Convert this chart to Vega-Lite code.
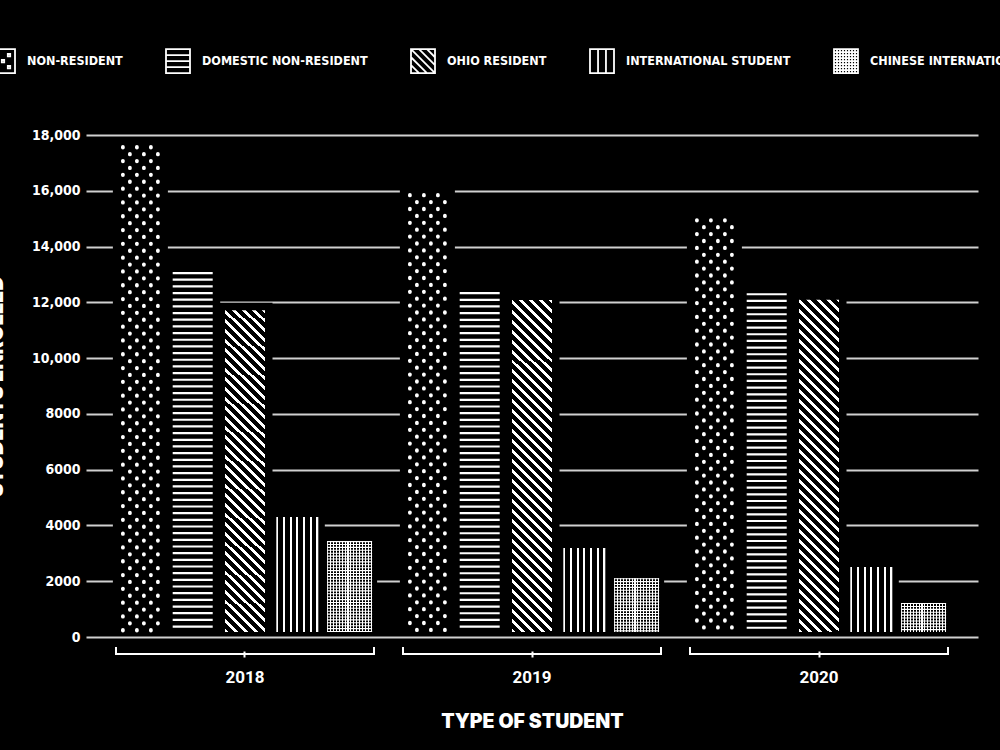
{
  "$schema": "https://vega.github.io/schema/vega-lite/v6.json",
  "width": 892,
  "height": 502,
  "autosize": {"type": "none"},
  "padding": {"left": 86, "top": 135, "right": 22, "bottom": 113},
  "background": "black",
  "config": {"view": {"stroke": null}},
  "data": {"values": [
    {"year": "2018", "type": "NON-RESIDENT", "value": 17570},
    {"year": "2018", "type": "DOMESTIC NON-RESIDENT", "value": 13090},
    {"year": "2018", "type": "OHIO RESIDENT", "value": 11720},
    {"year": "2018", "type": "INTERNATIONAL STUDENT", "value": 4300},
    {"year": "2018", "type": "CHINESE INTERNATIONAL STUDENT", "value": 3440},
    {"year": "2019", "type": "NON-RESIDENT", "value": 15850},
    {"year": "2019", "type": "DOMESTIC NON-RESIDENT", "value": 12370},
    {"year": "2019", "type": "OHIO RESIDENT", "value": 12080},
    {"year": "2019", "type": "INTERNATIONAL STUDENT", "value": 3190},
    {"year": "2019", "type": "CHINESE INTERNATIONAL STUDENT", "value": 2110},
    {"year": "2020", "type": "NON-RESIDENT", "value": 14950},
    {"year": "2020", "type": "DOMESTIC NON-RESIDENT", "value": 12330},
    {"year": "2020", "type": "OHIO RESIDENT", "value": 12090},
    {"year": "2020", "type": "INTERNATIONAL STUDENT", "value": 2510},
    {"year": "2020", "type": "CHINESE INTERNATIONAL STUDENT", "value": 1220}
  ]},
  "layer": [
    {
      "mark": {"type": "bar", "fill": "black", "stroke": "black", "strokeWidth": 15, "y2Offset": -12},
      "encoding": {
        "x": {"field": "year", "type": "nominal", "scale": {"paddingInner": 0, "paddingOuter": 0.054},
          "axis": {"title": "TYPE OF STUDENT", "orient": "bottom", "offset": 14, "domain": false, "ticks": true, "tickColor": "white", "tickWidth": 2, "tickSize": 6, "labelPadding": 12, "labelFont": "Roboto", "labelFontWeight": "bold", "labelFontSize": 17, "labelColor": "white", "labelAngle": 0, "titleFont": "Inter", "titleFontWeight": 900, "titleFontSize": 19.5, "titleColor": "white", "titlePadding": 27}},
        "xOffset": {"field": "type", "type": "nominal", "scale": {"domain": ["NON-RESIDENT", "DOMESTIC NON-RESIDENT", "OHIO RESIDENT", "INTERNATIONAL STUDENT", "CHINESE INTERNATIONAL STUDENT"], "paddingInner": 0.235, "paddingOuter": 0.361}},
        "y": {"field": "value", "type": "quantitative", "scale": {"domain": [0, 18000], "nice": false},
          "axis": {"title": "STUDENTS ENROLLED", "values": [0, 2000, 4000, 6000, 8000, 10000, 12000, 14000, 16000, 18000], "labelExpr": "datum.value >= 10000 ? format(datum.value, ',') : format(datum.value, 'd')", "domain": false, "ticks": false, "labelPadding": 6, "labelFont": "DejaVu Sans Condensed, sans-serif", "labelFontWeight": "bold", "labelFontSize": 14, "labelColor": "white", "grid": true, "gridColor": "#d0d0d0", "gridWidth": 2, "titleFont": "Inter", "titleFontWeight": 900, "titleFontSize": 20, "titleColor": "white", "titleX": -84, "titleBaseline": "alphabetic", "titleAngle": -90}},
        "y2": {"datum": 0}
      }
    },
    {
      "transform": [{"filter": "datum.type == 'NON-RESIDENT'"}],
      "mark": {"type": "rule", "stroke": "white", "strokeWidth": 3.8, "strokeCap": "round", "strokeDash": [0.5, 13.3], "strokeDashOffset": 0, "xOffset": -122.1, "y2Offset": -5},
      "encoding": {"x": {"field": "year", "type": "nominal"}, "y": {"field": "value", "type": "quantitative"}, "y2": {"datum": 0}}
    },
    {
      "transform": [{"filter": "datum.type == 'NON-RESIDENT'"}],
      "mark": {"type": "rule", "stroke": "white", "strokeWidth": 3.8, "strokeCap": "round", "strokeDash": [0.5, 13.3], "strokeDashOffset": 6.9, "xOffset": -115.1, "y2Offset": -5},
      "encoding": {"x": {"field": "year", "type": "nominal"}, "y": {"field": "value", "type": "quantitative"}, "y2": {"datum": 0}}
    },
    {
      "transform": [{"filter": "datum.type == 'NON-RESIDENT'"}],
      "mark": {"type": "rule", "stroke": "white", "strokeWidth": 3.8, "strokeCap": "round", "strokeDash": [0.5, 13.3], "strokeDashOffset": 0, "xOffset": -108.1, "y2Offset": -5},
      "encoding": {"x": {"field": "year", "type": "nominal"}, "y": {"field": "value", "type": "quantitative"}, "y2": {"datum": 0}}
    },
    {
      "transform": [{"filter": "datum.type == 'NON-RESIDENT'"}],
      "mark": {"type": "rule", "stroke": "white", "strokeWidth": 3.8, "strokeCap": "round", "strokeDash": [0.5, 13.3], "strokeDashOffset": 6.9, "xOffset": -101.1, "y2Offset": -5},
      "encoding": {"x": {"field": "year", "type": "nominal"}, "y": {"field": "value", "type": "quantitative"}, "y2": {"datum": 0}}
    },
    {
      "transform": [{"filter": "datum.type == 'NON-RESIDENT'"}],
      "mark": {"type": "rule", "stroke": "white", "strokeWidth": 3.8, "strokeCap": "round", "strokeDash": [0.5, 13.3], "strokeDashOffset": 0, "xOffset": -94.1, "y2Offset": -5},
      "encoding": {"x": {"field": "year", "type": "nominal"}, "y": {"field": "value", "type": "quantitative"}, "y2": {"datum": 0}}
    },
    {
      "transform": [{"filter": "datum.type == 'NON-RESIDENT'"}],
      "mark": {"type": "rule", "stroke": "white", "strokeWidth": 3.8, "strokeCap": "round", "strokeDash": [0.5, 13.3], "strokeDashOffset": 6.9, "xOffset": -87.1, "y2Offset": -5},
      "encoding": {"x": {"field": "year", "type": "nominal"}, "y": {"field": "value", "type": "quantitative"}, "y2": {"datum": 0}}
    },
    {
      "transform": [{"filter": "datum.type == 'DOMESTIC NON-RESIDENT'"}],
      "mark": {"type": "rule", "stroke": "white", "strokeWidth": 40, "strokeCap": "butt", "strokeDash": [2.2, 4.47], "y2Offset": -5},
      "encoding": {"x": {"field": "year", "type": "nominal"}, "xOffset": {"field": "type", "type": "nominal"}, "y": {"field": "value", "type": "quantitative"}, "y2": {"datum": 0}}
    },
    {
      "transform": [{"filter": "datum.type == 'OHIO RESIDENT'"}],
      "mark": {"type": "bar", "y2Offset": -5, "fill": {"gradient": "linear", "x1": 0, "y1": 1, "x2": 0.1326, "y2": -0.1042, "stops": [
        {"offset": 0, "color": "#fff"}, {"offset": 0.0107, "color": "#fff"}, {"offset": 0.0107, "color": "#000"}, {"offset": 0.0268, "color": "#000"},
        {"offset": 0.0268, "color": "#fff"}, {"offset": 0.0375, "color": "#fff"}, {"offset": 0.0375, "color": "#000"}, {"offset": 0.0536, "color": "#000"},
        {"offset": 0.0536, "color": "#fff"}, {"offset": 0.0643, "color": "#fff"}, {"offset": 0.0643, "color": "#000"}, {"offset": 0.0804, "color": "#000"},
        {"offset": 0.0804, "color": "#fff"}, {"offset": 0.0911, "color": "#fff"}, {"offset": 0.0911, "color": "#000"}, {"offset": 0.1072, "color": "#000"},
        {"offset": 0.1072, "color": "#fff"}, {"offset": 0.1179, "color": "#fff"}, {"offset": 0.1179, "color": "#000"}, {"offset": 0.134, "color": "#000"},
        {"offset": 0.134, "color": "#fff"}, {"offset": 0.1447, "color": "#fff"}, {"offset": 0.1447, "color": "#000"}, {"offset": 0.1608, "color": "#000"},
        {"offset": 0.1608, "color": "#fff"}, {"offset": 0.1715, "color": "#fff"}, {"offset": 0.1715, "color": "#000"}, {"offset": 0.1876, "color": "#000"},
        {"offset": 0.1876, "color": "#fff"}, {"offset": 0.1983, "color": "#fff"}, {"offset": 0.1983, "color": "#000"}, {"offset": 0.2144, "color": "#000"},
        {"offset": 0.2144, "color": "#fff"}, {"offset": 0.2251, "color": "#fff"}, {"offset": 0.2251, "color": "#000"}, {"offset": 0.2412, "color": "#000"},
        {"offset": 0.2412, "color": "#fff"}, {"offset": 0.2519, "color": "#fff"}, {"offset": 0.2519, "color": "#000"}, {"offset": 0.268, "color": "#000"},
        {"offset": 0.268, "color": "#fff"}, {"offset": 0.2787, "color": "#fff"}, {"offset": 0.2787, "color": "#000"}, {"offset": 0.2948, "color": "#000"},
        {"offset": 0.2948, "color": "#fff"}, {"offset": 0.3055, "color": "#fff"}, {"offset": 0.3055, "color": "#000"}, {"offset": 0.3216, "color": "#000"},
        {"offset": 0.3216, "color": "#fff"}, {"offset": 0.3323, "color": "#fff"}, {"offset": 0.3323, "color": "#000"}, {"offset": 0.3484, "color": "#000"},
        {"offset": 0.3484, "color": "#fff"}, {"offset": 0.3591, "color": "#fff"}, {"offset": 0.3591, "color": "#000"}, {"offset": 0.3752, "color": "#000"},
        {"offset": 0.3752, "color": "#fff"}, {"offset": 0.3859, "color": "#fff"}, {"offset": 0.3859, "color": "#000"}, {"offset": 0.402, "color": "#000"},
        {"offset": 0.402, "color": "#fff"}, {"offset": 0.4127, "color": "#fff"}, {"offset": 0.4127, "color": "#000"}, {"offset": 0.4288, "color": "#000"},
        {"offset": 0.4288, "color": "#fff"}, {"offset": 0.4395, "color": "#fff"}, {"offset": 0.4395, "color": "#000"}, {"offset": 0.4556, "color": "#000"},
        {"offset": 0.4556, "color": "#fff"}, {"offset": 0.4663, "color": "#fff"}, {"offset": 0.4663, "color": "#000"}, {"offset": 0.4824, "color": "#000"},
        {"offset": 0.4824, "color": "#fff"}, {"offset": 0.4931, "color": "#fff"}, {"offset": 0.4931, "color": "#000"}, {"offset": 0.5092, "color": "#000"},
        {"offset": 0.5092, "color": "#fff"}, {"offset": 0.5199, "color": "#fff"}, {"offset": 0.5199, "color": "#000"}, {"offset": 0.536, "color": "#000"},
        {"offset": 0.536, "color": "#fff"}, {"offset": 0.5467, "color": "#fff"}, {"offset": 0.5467, "color": "#000"}, {"offset": 0.5628, "color": "#000"},
        {"offset": 0.5628, "color": "#fff"}, {"offset": 0.5735, "color": "#fff"}, {"offset": 0.5735, "color": "#000"}, {"offset": 0.5896, "color": "#000"},
        {"offset": 0.5896, "color": "#fff"}, {"offset": 0.6003, "color": "#fff"}, {"offset": 0.6003, "color": "#000"}, {"offset": 0.6164, "color": "#000"},
        {"offset": 0.6164, "color": "#fff"}, {"offset": 0.6271, "color": "#fff"}, {"offset": 0.6271, "color": "#000"}, {"offset": 0.6432, "color": "#000"},
        {"offset": 0.6432, "color": "#fff"}, {"offset": 0.6539, "color": "#fff"}, {"offset": 0.6539, "color": "#000"}, {"offset": 0.67, "color": "#000"},
        {"offset": 0.67, "color": "#fff"}, {"offset": 0.6807, "color": "#fff"}, {"offset": 0.6807, "color": "#000"}, {"offset": 0.6968, "color": "#000"},
        {"offset": 0.6968, "color": "#fff"}, {"offset": 0.7075, "color": "#fff"}, {"offset": 0.7075, "color": "#000"}, {"offset": 0.7236, "color": "#000"},
        {"offset": 0.7236, "color": "#fff"}, {"offset": 0.7343, "color": "#fff"}, {"offset": 0.7343, "color": "#000"}, {"offset": 0.7504, "color": "#000"},
        {"offset": 0.7504, "color": "#fff"}, {"offset": 0.7611, "color": "#fff"}, {"offset": 0.7611, "color": "#000"}, {"offset": 0.7772, "color": "#000"},
        {"offset": 0.7772, "color": "#fff"}, {"offset": 0.7879, "color": "#fff"}, {"offset": 0.7879, "color": "#000"}, {"offset": 0.804, "color": "#000"},
        {"offset": 0.804, "color": "#fff"}, {"offset": 0.8147, "color": "#fff"}, {"offset": 0.8147, "color": "#000"}, {"offset": 0.8308, "color": "#000"},
        {"offset": 0.8308, "color": "#fff"}, {"offset": 0.8415, "color": "#fff"}, {"offset": 0.8415, "color": "#000"}, {"offset": 0.8576, "color": "#000"},
        {"offset": 0.8576, "color": "#fff"}, {"offset": 0.8683, "color": "#fff"}, {"offset": 0.8683, "color": "#000"}, {"offset": 0.8844, "color": "#000"},
        {"offset": 0.8844, "color": "#fff"}, {"offset": 0.8951, "color": "#fff"}, {"offset": 0.8951, "color": "#000"}, {"offset": 0.9112, "color": "#000"},
        {"offset": 0.9112, "color": "#fff"}, {"offset": 0.9219, "color": "#fff"}, {"offset": 0.9219, "color": "#000"}, {"offset": 0.938, "color": "#000"},
        {"offset": 0.938, "color": "#fff"}, {"offset": 0.9487, "color": "#fff"}, {"offset": 0.9487, "color": "#000"}, {"offset": 0.9648, "color": "#000"},
        {"offset": 0.9648, "color": "#fff"}, {"offset": 0.9755, "color": "#fff"}, {"offset": 0.9755, "color": "#000"}, {"offset": 0.9916, "color": "#000"},
        {"offset": 0.9916, "color": "#fff"}, {"offset": 1, "color": "#fff"}
      ]}},
      "encoding": {"x": {"field": "year", "type": "nominal"}, "xOffset": {"field": "type", "type": "nominal"}, "y": {"field": "value", "type": "quantitative"}, "y2": {"datum": 0}}
    },
    {
      "transform": [{"filter": "datum.type == 'INTERNATIONAL STUDENT'"}],
      "mark": {"type": "bar", "width": 42, "y2Offset": -5, "fill": {"gradient": "linear", "x1": 0, "y1": 0, "x2": 1, "y2": 0, "stops": [
        {"offset": 0, "color": "#fff"}, {"offset": 0.05, "color": "#fff"}, {"offset": 0.05, "color": "#000"}, {"offset": 0.1583, "color": "#000"},
        {"offset": 0.1583, "color": "#fff"}, {"offset": 0.2083, "color": "#fff"}, {"offset": 0.2083, "color": "#000"}, {"offset": 0.3167, "color": "#000"},
        {"offset": 0.3167, "color": "#fff"}, {"offset": 0.3667, "color": "#fff"}, {"offset": 0.3667, "color": "#000"}, {"offset": 0.475, "color": "#000"},
        {"offset": 0.475, "color": "#fff"}, {"offset": 0.525, "color": "#fff"}, {"offset": 0.525, "color": "#000"}, {"offset": 0.6333, "color": "#000"},
        {"offset": 0.6333, "color": "#fff"}, {"offset": 0.6833, "color": "#fff"}, {"offset": 0.6833, "color": "#000"}, {"offset": 0.7917, "color": "#000"},
        {"offset": 0.7917, "color": "#fff"}, {"offset": 0.8417, "color": "#fff"}, {"offset": 0.8417, "color": "#000"}, {"offset": 0.95, "color": "#000"},
        {"offset": 0.95, "color": "#fff"}, {"offset": 1, "color": "#fff"}
      ]}},
      "encoding": {"x": {"field": "year", "type": "nominal"}, "xOffset": {"field": "type", "type": "nominal"}, "y": {"field": "value", "type": "quantitative"}, "y2": {"datum": 0}}
    },
    {
      "transform": [{"filter": "datum.type == 'CHINESE INTERNATIONAL STUDENT'"}],
      "mark": {"type": "bar", "width": 45, "y2Offset": -5, "fill": {"gradient": "linear", "x1": 0, "y1": 0, "x2": 1, "y2": 0, "stops": [
        {"offset": 0, "color": "#fff"}, {"offset": 0.025, "color": "#fff"}, {"offset": 0.025, "color": "#000"}, {"offset": 0.0645, "color": "#000"},
        {"offset": 0.0645, "color": "#fff"}, {"offset": 0.0895, "color": "#fff"}, {"offset": 0.0895, "color": "#000"}, {"offset": 0.129, "color": "#000"},
        {"offset": 0.129, "color": "#fff"}, {"offset": 0.154, "color": "#fff"}, {"offset": 0.154, "color": "#000"}, {"offset": 0.1935, "color": "#000"},
        {"offset": 0.1935, "color": "#fff"}, {"offset": 0.2185, "color": "#fff"}, {"offset": 0.2185, "color": "#000"}, {"offset": 0.258, "color": "#000"},
        {"offset": 0.258, "color": "#fff"}, {"offset": 0.283, "color": "#fff"}, {"offset": 0.283, "color": "#000"}, {"offset": 0.3225, "color": "#000"},
        {"offset": 0.3225, "color": "#fff"}, {"offset": 0.3475, "color": "#fff"}, {"offset": 0.3475, "color": "#000"}, {"offset": 0.387, "color": "#000"},
        {"offset": 0.387, "color": "#fff"}, {"offset": 0.412, "color": "#fff"}, {"offset": 0.412, "color": "#000"}, {"offset": 0.4515, "color": "#000"},
        {"offset": 0.4515, "color": "#fff"}, {"offset": 0.4765, "color": "#fff"}, {"offset": 0.4765, "color": "#000"}, {"offset": 0.516, "color": "#000"},
        {"offset": 0.516, "color": "#fff"}, {"offset": 0.541, "color": "#fff"}, {"offset": 0.541, "color": "#000"}, {"offset": 0.5805, "color": "#000"},
        {"offset": 0.5805, "color": "#fff"}, {"offset": 0.6055, "color": "#fff"}, {"offset": 0.6055, "color": "#000"}, {"offset": 0.645, "color": "#000"},
        {"offset": 0.645, "color": "#fff"}, {"offset": 0.67, "color": "#fff"}, {"offset": 0.67, "color": "#000"}, {"offset": 0.7095, "color": "#000"},
        {"offset": 0.7095, "color": "#fff"}, {"offset": 0.7345, "color": "#fff"}, {"offset": 0.7345, "color": "#000"}, {"offset": 0.774, "color": "#000"},
        {"offset": 0.774, "color": "#fff"}, {"offset": 0.799, "color": "#fff"}, {"offset": 0.799, "color": "#000"}, {"offset": 0.8385, "color": "#000"},
        {"offset": 0.8385, "color": "#fff"}, {"offset": 0.8635, "color": "#fff"}, {"offset": 0.8635, "color": "#000"}, {"offset": 0.903, "color": "#000"},
        {"offset": 0.903, "color": "#fff"}, {"offset": 0.928, "color": "#fff"}, {"offset": 0.928, "color": "#000"}, {"offset": 0.9675, "color": "#000"},
        {"offset": 0.9675, "color": "#fff"}, {"offset": 0.9925, "color": "#fff"}, {"offset": 0.9925, "color": "#000"}, {"offset": 1, "color": "#000"}
      ]}},
      "encoding": {"x": {"field": "year", "type": "nominal"}, "xOffset": {"field": "type", "type": "nominal"}, "y": {"field": "value", "type": "quantitative"}, "y2": {"datum": 0}}
    },
    {
      "transform": [{"filter": "datum.type == 'CHINESE INTERNATIONAL STUDENT'"}],
      "mark": {"type": "rule", "stroke": "white", "strokeWidth": 45, "strokeCap": "butt", "strokeDash": [1.1, 1.8], "y2Offset": -5},
      "encoding": {"x": {"field": "year", "type": "nominal"}, "xOffset": {"field": "type", "type": "nominal"}, "y": {"field": "value", "type": "quantitative"}, "y2": {"datum": 0}}
    },
    {
      "transform": [{"filter": "datum.type == 'NON-RESIDENT'"}],
      "mark": {"type": "tick", "orient": "horizontal", "size": 258, "thickness": 2, "color": "white", "opacity": 1, "yOffset": 17},
      "encoding": {"x": {"field": "year", "type": "nominal"}, "y": {"datum": 0, "type": "quantitative"}}
    },
    {
      "transform": [{"filter": "datum.type == 'NON-RESIDENT'"}],
      "mark": {"type": "tick", "orient": "vertical", "size": 8, "thickness": 2, "color": "white", "opacity": 1, "xOffset": -129, "yOffset": 14},
      "encoding": {"x": {"field": "year", "type": "nominal"}, "y": {"datum": 0, "type": "quantitative"}}
    },
    {
      "transform": [{"filter": "datum.type == 'NON-RESIDENT'"}],
      "mark": {"type": "tick", "orient": "vertical", "size": 8, "thickness": 2, "color": "white", "opacity": 1, "xOffset": 129, "yOffset": 14},
      "encoding": {"x": {"field": "year", "type": "nominal"}, "y": {"datum": 0, "type": "quantitative"}}
    },
    {
      "transform": [{"filter": "datum.value < 0"}],
      "mark": {"type": "point", "filled": false, "color": "white", "strokeWidth": 1.8, "size": 576, "opacity": 1},
      "encoding": {
        "shape": {"field": "type", "type": "nominal",
          "scale": {"domain": ["NON-RESIDENT", "DOMESTIC NON-RESIDENT", "OHIO RESIDENT", "INTERNATIONAL STUDENT", "CHINESE INTERNATIONAL STUDENT"],
            "range": [
              "M-1,-1H1V1H-1Z M-0.6,-0.6h0.2v0.2h-0.2Z M0.4,-0.6h0.2v0.2h-0.2Z M-0.1,-0.1h0.2v0.2h-0.2Z M-0.6,0.4h0.2v0.2h-0.2Z M0.4,0.4h0.2v0.2h-0.2Z",
              "M-1,-1H1V1H-1Z M-1,-0.5H1 M-1,0H1 M-1,0.5H1",
              "M-1,-1H1V1H-1Z M-1,-1L1,1 M-0.33,-1L1,0.33 M0.33,-1L1,-0.33 M-1,-0.33L0.33,1 M-1,0.33L-0.33,1",
              "M-1,-1H1V1H-1Z M-0.33,-1V1 M0.33,-1V1",
              "M-1,-1H1V1H-1Z M-0.75,-1V1 M-0.5,-1V1 M-0.25,-1V1 M0,-1V1 M0.25,-1V1 M0.5,-1V1 M0.75,-1V1 M-1,-0.75H1 M-1,-0.5H1 M-1,-0.25H1 M-1,0H1 M-1,0.25H1 M-1,0.5H1 M-1,0.75H1"
            ]},
          "legend": {"title": null, "orient": "none", "legendX": -96, "legendY": -87, "direction": "horizontal", "columns": 5, "columnPadding": 39, "padding": 0,
            "labelFont": "DejaVu Sans Condensed, sans-serif", "labelFontSize": 12.5, "labelFontWeight": "bold", "labelColor": "white", "labelOffset": 11, "labelLimit": 400,
            "symbolSize": 576, "symbolStrokeColor": "white", "symbolStrokeWidth": 1.8, "symbolFillColor": "black", "symbolOpacity": 1}
        }
      }
    }
  ]
}
